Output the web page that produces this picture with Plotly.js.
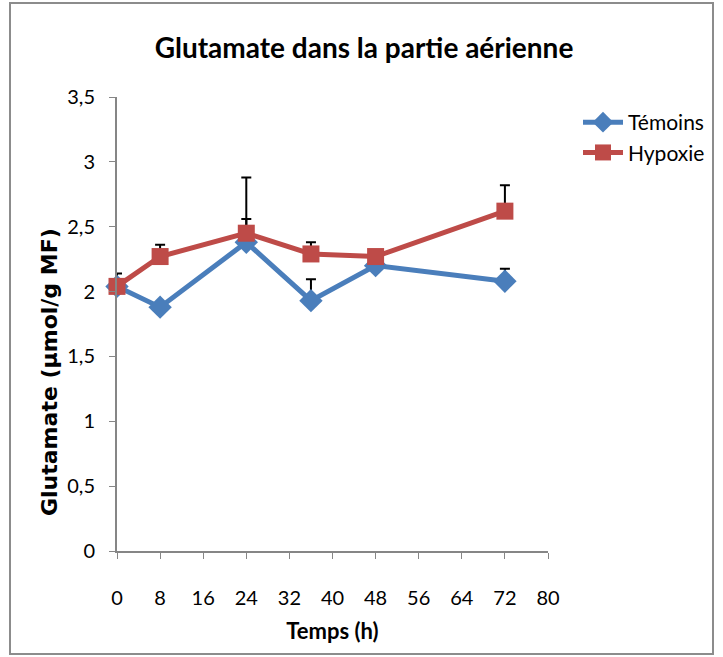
<!DOCTYPE html>
<html>
<head>
<meta charset="utf-8">
<script src="https://cdn.plot.ly/plotly-3.0.1.min.js"></script>
<style>
html,body{margin:0;padding:0;background:#fff;}
#chart{width:723px;height:657px;}
</style>
</head>
<body>
<div id="chart"></div>
<script>
// Data
const hours = [0, 8, 24, 36, 48, 72];
const temoins = [2.04, 1.88, 2.38, 1.93, 2.20, 2.08];
const temoinsErr = [0.10, 0.02, 0.18, 0.165, 0.0, 0.095];
const hypoxie = [2.04, 2.27, 2.45, 2.29, 2.27, 2.62];
const hypoxieErr = [0.0, 0.09, 0.43, 0.09, 0.0, 0.20];
const xTicks = [0, 8, 16, 24, 32, 40, 48, 56, 64, 72, 80];
const yTicks = [0, 0.5, 1, 1.5, 2, 2.5, 3, 3.5];
const seriesNames = ['Témoins', 'Hypoxie'];
const titleText = 'Glutamate dans la partie aérienne';
const xTitle = 'Temps (h)';
const yTitle = 'Glutamate (µmol/g MF)';

const narrow = 'Lato, "Liberation Sans", sans-serif';
const zeros = hours.map(() => 0);

const traces = [
  {
    x: hours, y: temoins, name: seriesNames[0], type: 'scatter', mode: 'lines+markers',
    line: {color: '#4A7EBB', width: 5},
    marker: {symbol: 'diamond', size: 18, color: '#4A7EBB'},
    error_y: {type: 'data', symmetric: false, array: temoinsErr, arrayminus: zeros,
              color: '#000', thickness: 2, width: 5},
    cliponaxis: false
  },
  {
    x: hours, y: hypoxie, name: seriesNames[1], type: 'scatter', mode: 'lines+markers',
    line: {color: '#BE4B48', width: 5},
    marker: {symbol: 'square', size: 17, color: '#BE4B48'},
    error_y: {type: 'data', symmetric: false, array: hypoxieErr, arrayminus: zeros,
              color: '#000', thickness: 2, width: 5},
    cliponaxis: false
  }
];

const L = 117, R = 175, T = 97, B = 106;
const pw = 723 - L - R, ph = 657 - T - B;
const px = v => (v - L) / pw;
const py = v => (657 - B - v) / ph;

const layout = {
  width: 723, height: 657,
  margin: {l: L, r: R, t: T, b: B, pad: 0},
  paper_bgcolor: '#fff', plot_bgcolor: '#fff',
  separators: ', ',
  font: {family: narrow, size: 19, color: '#000'},
  title: {text: '<b>' + titleText + '</b>', font: {family: narrow, size: 28, color: '#000'},
          x: 364/723, xref: 'container', xanchor: 'center', y: 1 - 48/657, yanchor: 'middle'},
  xaxis: {
    range: [0, 80], tickvals: xTicks, ticktext: xTicks.map(String),
    showgrid: false, zeroline: false, showline: true, linecolor: '#868686', linewidth: 2,
    ticks: 'outside', ticklen: 6, tickcolor: '#868686', tickwidth: 1,
    ticklabelstandoff: 22,
    tickfont: {family: narrow, size: 20, color: '#000'},
    title: {text: '<b>' + xTitle + '</b>', font: {family: narrow, size: 22, color: '#000'}, standoff: 16}
  },
  yaxis: {
    range: [0, 3.5], tickvals: yTicks, tickformat: ',.1~f',
    showgrid: false, zeroline: false, showline: true, linecolor: '#868686', linewidth: 2,
    ticks: 'outside', ticklen: 6, tickcolor: '#868686', tickwidth: 1,
    ticklabelstandoff: 10,
    tickfont: {family: narrow, size: 20, color: '#000'}
  },
  annotations: [{
    text: '<b>' + yTitle + '</b>', xref: 'paper', yref: 'paper',
    x: px(50), y: py(372), xanchor: 'center', yanchor: 'middle',
    textangle: -90, showarrow: false,
    font: {family: '"DejaVu Sans", Verdana, sans-serif', size: 22, color: '#000'}
  }],
  legend: {
    x: px(578), y: py(102), xanchor: 'left', yanchor: 'top',
    font: {family: narrow, size: 21, color: '#000'},
    bgcolor: 'rgba(0,0,0,0)', tracegroupgap: 8, itemwidth: 40
  },
  showlegend: true,
  shapes: [{
    type: 'rect', xref: 'paper', yref: 'paper',
    x0: px(10), x1: px(713), y0: py(654), y1: py(3),
    line: {color: '#8c8c8c', width: 2}, fillcolor: 'rgba(0,0,0,0)', layer: 'below'
  }]
};

Plotly.newPlot('chart', traces, layout, {displayModeBar: false, staticPlot: true});
</script>
</body>
</html>
